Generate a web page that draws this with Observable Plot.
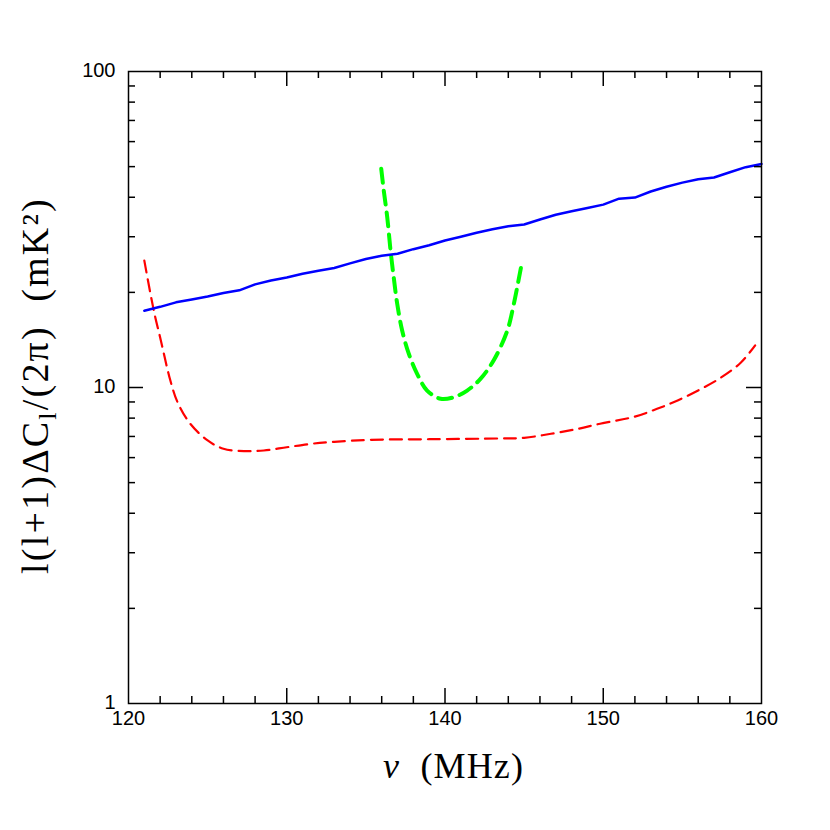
<!DOCTYPE html>
<html><head><meta charset="utf-8">
<script src="https://cdn.jsdelivr.net/npm/d3@7"></script>
<script src="https://cdn.jsdelivr.net/npm/@observablehq/plot@0.6"></script>
<style>body{margin:0;background:#fff}</style>
</head><body><div id="chart"></div>
<script>
// Solid blue curve
const blueFreq = [121,122,123,124,125,126,127,128,129,130,131,132,133,134,135,136,137,138,139,140,141,142,143,144,145,146,147,148,149,150,151,152,153,154,155,156,157,158,159,160];
const blueValues = [17.5,18.0,18.6,19.0,19.4,19.9,20.3,21.2,21.8,22.3,22.9,23.4,23.9,24.7,25.5,26.1,26.5,27.4,28.2,29.2,30.0,30.9,31.7,32.4,32.8,34.0,35.2,36.1,37.0,37.9,39.6,39.9,41.7,43.2,44.5,45.6,46.2,48.0,49.8,51.0];
// Red dashed curve
const redFreq = [121.0,121.6,122.0,122.65,123.1,123.9,125.0,126.0,127.3,128.55,130.0,131.5,133.0,135.3,139.0,143.5,145.0,146.7,148.4,149.8,152.0,153.4,154.7,156.2,157.5,158.7,159.6];
const redValues = [25.2,17.5,14.4,10.5,8.98,7.68,6.80,6.40,6.29,6.32,6.47,6.63,6.73,6.83,6.86,6.90,6.93,7.14,7.40,7.68,8.09,8.56,9.10,9.91,10.8,12.0,13.6];
// Green thick dashed curve
const greenFreq = [135.97,136.13,136.35,136.56,136.76,136.98,137.30,137.71,138.24,138.87,139.72,140.56,141.40,142.24,143.08,143.93,144.35,144.88];
const greenValues = [49.2,42.0,34.6,27.1,22.3,18.4,15.1,12.8,11.05,9.78,9.21,9.32,9.78,10.65,12.2,15.1,18.4,25.2];

const xTickLabels = [120,130,140,150,160];
const yTickLabels = [1,10,100];
const xMinorTicks = [122,124,126,128,132,134,136,138,142,144,146,148,152,154,156,158];
const xMajorTicks = [130,140,150];
const yMinorTicks = [2,3,4,5,6,7,8,9,20,30,40,50,60,70,80,90];
const yMajorTicks = [10];

const xLabel = "ν  (MHz)";
const yLabel = "l(l+1)ΔC_l/(2π)  (mK²)";

const W = 830, H = 830, mL = 128, mR = 69, mT = 71, mB = 127;
const fw = W - mL - mR, fh = H - mT - mB;

const blue = blueFreq.map((f, i) => ({f, v: blueValues[i]}));
const red = redFreq.map((f, i) => ({f, v: redValues[i]}));
const green = greenFreq.map((f, i) => ({f, v: greenValues[i]}));

const minorLen = 7, majorLen = 15;
const tickStyle = {stroke: "black", strokeWidth: 1.5};

const chart = Plot.plot({
  width: W, height: H,
  marginLeft: mL, marginRight: mR, marginTop: mT, marginBottom: mB,
  x: {domain: [120, 160], axis: null},
  y: {type: "log", domain: [1, 100], axis: null},
  style: {background: "white", fontFamily: "Liberation Sans"},
  marks: [
    Plot.line(red, {x: "f", y: "v", stroke: "#ff0000", strokeWidth: 2.2, strokeDasharray: "12,7", curve: "catmull-rom"}),
    Plot.line(green, {x: "f", y: "v", stroke: "#00ff00", strokeWidth: 4, strokeDasharray: "14,8", curve: "catmull-rom"}),
    Plot.line(blue, {x: "f", y: "v", stroke: "#0000ff", strokeWidth: 2.5}),
    Plot.frame({stroke: "black", strokeWidth: 1.5}),
    // bottom ticks
    Plot.ruleX(xMinorTicks, {x: d => d, insetTop: fh - minorLen, ...tickStyle}),
    Plot.ruleX(xMajorTicks, {x: d => d, insetTop: fh - majorLen, ...tickStyle}),
    // top ticks
    Plot.ruleX(xMinorTicks, {x: d => d, insetBottom: fh - minorLen, ...tickStyle}),
    Plot.ruleX(xMajorTicks, {x: d => d, insetBottom: fh - majorLen, ...tickStyle}),
    // left ticks
    Plot.ruleY(yMinorTicks, {y: d => d, insetRight: fw - minorLen, ...tickStyle}),
    Plot.ruleY(yMajorTicks, {y: d => d, insetRight: fw - majorLen, ...tickStyle}),
    // right ticks
    Plot.ruleY(yMinorTicks, {y: d => d, insetLeft: fw - minorLen, ...tickStyle}),
    Plot.ruleY(yMajorTicks, {y: d => d, insetLeft: fw - majorLen, ...tickStyle}),
    // tick labels
    Plot.text(xTickLabels, {x: d => d, frameAnchor: "bottom", text: d => String(d), dy: 21, fontSize: 20, fill: "black"}),
    Plot.text(yTickLabels, {y: d => d, frameAnchor: "left", text: d => String(d), dx: -13, dy: -1, textAnchor: "end", fontSize: 20, fill: "black"}),
    // axis labels
    Plot.text([xLabel], {frameAnchor: "bottom", text: d => d, lineAnchor: "bottom", dy: 74, dx: 8, fontSize: 36, fontFamily: "Liberation Serif", fill: "black"}),
    Plot.text([yLabel], {frameAnchor: "left", textAnchor: "middle", text: d => d, rotate: -90, dx: -93, dy: -2, fontSize: 38, fontFamily: "Liberation Serif", fill: "black"})
  ]
});

document.getElementById("chart").appendChild(chart);

// rich formatting of axis labels (italic nu, subscript l)
d3.select(chart).selectAll("text").each(function() {
  const t = d3.select(this);
  const s = this.textContent;
  if (s === xLabel) {
    t.text(null).style("white-space", "pre");
    t.append("tspan").attr("font-style", "italic").text("ν");
    t.append("tspan").text("  (MHz)");
    t.attr("textLength", 140).attr("lengthAdjust", "spacing");
  } else if (s === yLabel) {
    t.text(null).style("white-space", "pre").style("letter-spacing", "2.2px");
    t.append("tspan").text("l(l+1)ΔC");
    t.append("tspan").attr("font-size", 26).attr("baseline-shift", "-8").text("l");
    t.append("tspan").text("/(2π)  (mK²)");
  }
});
</script>
</body></html>
